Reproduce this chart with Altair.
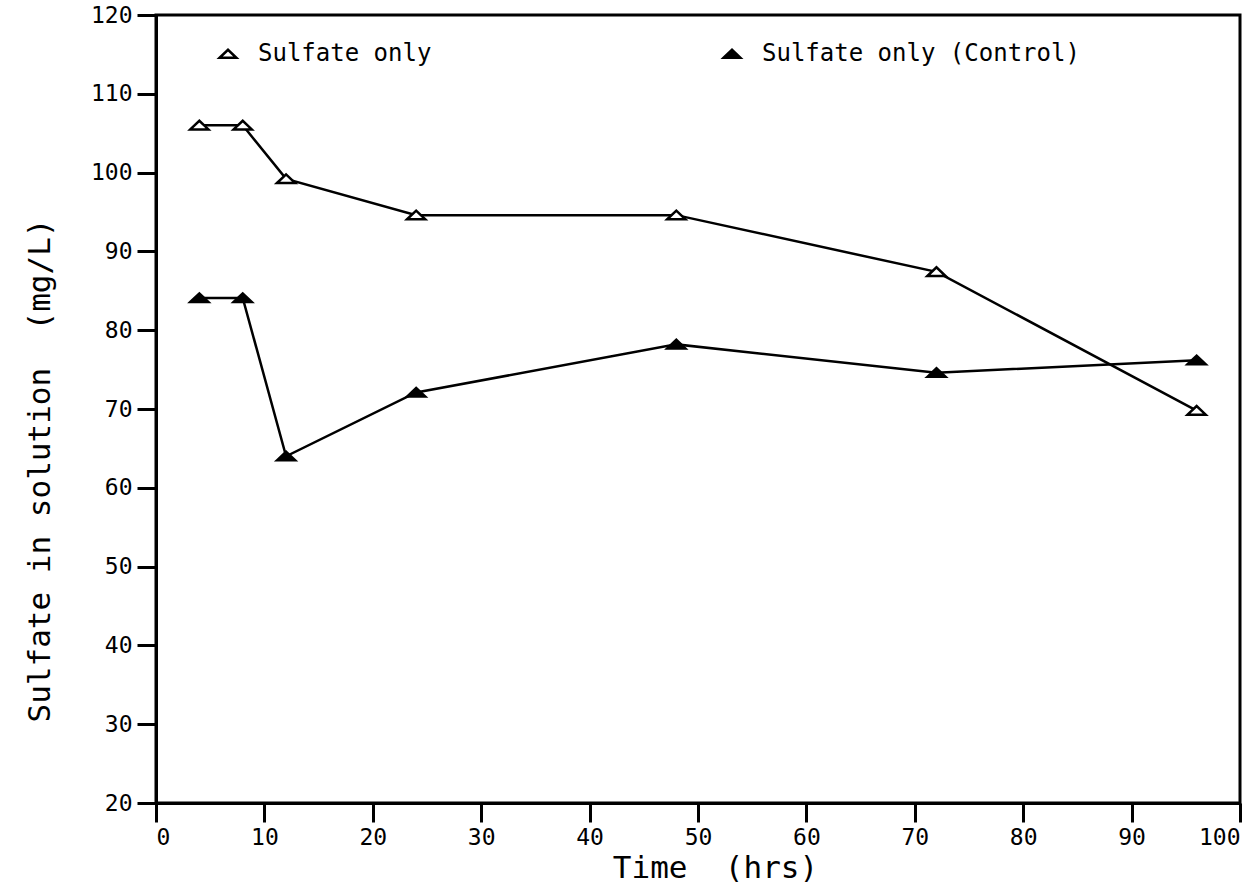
import altair as alt
import pandas as pd

# Sampling times (hours) and measured sulfate concentrations (mg/L)
hours = [4, 8, 12, 24, 48, 72, 96]
sulfate_only = [106.0, 106.0, 99.2, 94.6, 94.6, 87.4, 69.8]
sulfate_control = [84.1, 84.1, 64.0, 72.1, 78.2, 74.6, 76.2]
series_names = ["Sulfate only", "Sulfate only (Control)"]
x_ticks = list(range(0, 101, 10))
y_ticks = list(range(20, 121, 10))

rows = []
for name, values in zip(series_names, [sulfate_only, sulfate_control]):
    for h, v in zip(hours, values):
        rows.append({"Time": h, "Sulfate": v, "Series": name})
df = pd.DataFrame(rows)

FONT = "DejaVu Sans Mono"
# squat triangle used for the markers
TRI = "M-1,0.45L0,-0.5L1,0.45Z"

x_enc = alt.X(
    "Time:Q",
    scale=alt.Scale(domain=[0, 100], nice=False, zero=False),
    axis=alt.Axis(
        values=x_ticks,
        title="Time\u00a0\u00a0(hrs)",
        titleX=559,
        titleY=65,
        titleBaseline="middle",
        titleAlign="center",
    ),
)
y_enc = alt.Y(
    "Sulfate:Q",
    scale=alt.Scale(domain=[20, 120], nice=False, zero=False),
    axis=alt.Axis(
        values=y_ticks,
        title="Sulfate in solution\u00a0\u00a0(mg/L)",
        titleAngle=270,
        titleX=-116,
        titleY=455,
        titleBaseline="middle",
        titleAlign="center",
        labelPadding=5,
    ),
)

base = alt.Chart(df)

lines = base.mark_line(color="black", strokeWidth=2.5).encode(
    x=x_enc, y=y_enc, detail="Series:N", order="Time:Q"
)

points = base.mark_point(
    shape=TRI, size=330, stroke="black", strokeWidth=2.5, opacity=1, filled=False
).encode(
    x="Time:Q",
    y="Sulfate:Q",
    fill=alt.Fill(
        "Series:N",
        scale=alt.Scale(domain=series_names, range=["white", "black"]),
        legend=alt.Legend(
            title=None,
            orient="none",
            direction="horizontal",
            legendX=60,
            legendY=27,
            padding=0,
            symbolType=TRI,
            symbolSize=280,
            symbolStrokeColor="black",
            symbolStrokeWidth=2.5,
            labelOffset=18,
            labelLimit=0,
            columnPadding=286,
            labelFont=FONT,
            labelFontSize=24,
            labelColor="black",
        ),
    ),
)

chart = (
    alt.layer(lines, points)
    .properties(
        width=1084,
        height=788,
        autosize=alt.AutoSizeParams(type="none"),
        padding={"left": 156, "top": 15, "right": 18, "bottom": 90},
        background="white",
    )
    .configure_view(stroke="black", strokeWidth=3)
    .configure_axis(
        domainColor="black",
        domainWidth=3,
        tickColor="black",
        tickWidth=3,
        tickSize=19,
        labelFont=FONT,
        labelFontSize=23,
        labelColor="black",
        labelPadding=4,
        titleFont=FONT,
        titleFontSize=31,
        titleFontWeight="normal",
        titleColor="black",
        grid=False,
    )
)

chart.save("out.html", embed_options={"renderer": "svg", "actions": False})
